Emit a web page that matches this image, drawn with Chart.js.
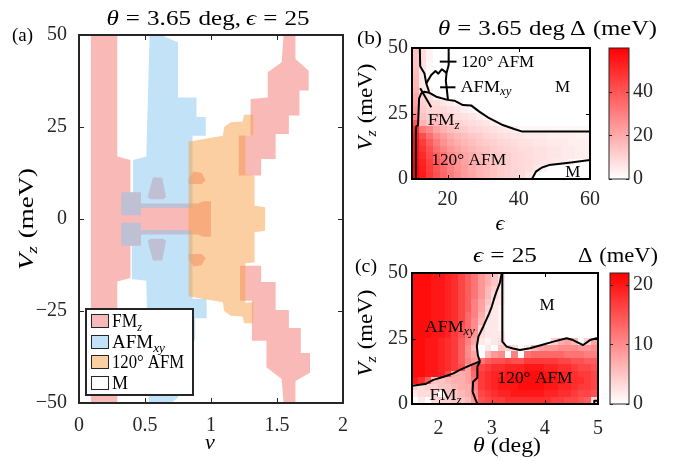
<!DOCTYPE html>
<html>
<head>
<meta charset="utf-8">
<script src="https://cdn.jsdelivr.net/npm/chart.js@4.4.0/dist/chart.umd.min.js"></script>
<style>
html, body { margin: 0; padding: 0; background: #fff; }
#wrap { position: relative; width: 674px; height: 462px; }
#wrap canvas { position: absolute; left: 0; top: 0; }
</style>
</head>
<body>
<div id="wrap">
  <canvas id="chA" width="674" height="462"></canvas>
  <canvas id="chB" width="674" height="462"></canvas>
  <canvas id="chBbar" width="674" height="462"></canvas>
  <canvas id="chC" width="674" height="462"></canvas>
  <canvas id="chCbar" width="674" height="462"></canvas>
</div>
<script>
// ---------- panel (a): phase regions, (nu, Vz) corners ----------
var aXTicks = [0, 0.5, 1, 1.5, 2];
var aYTicks = [-50, -25, 0, 25, 50];

var fmzLeft = [[0.09,50],[0.29,50],[0.29,17],[0.39,16],[0.39,7.3],[0.47,7.3],[0.47,4.2],[0.9,4.2],[0.94,4.8],[1.0,4.8],
  [1.0,-4.8],[0.94,-4.8],[0.9,-4.2],[0.47,-4.2],[0.47,-7.3],[0.39,-7.3],[0.39,-16],[0.29,-17],[0.29,-50],[0.09,-50]];
var fmzSpotA = [[0.56,11.3],[0.63,11.3],[0.66,6],[0.64,5.4],[0.54,5.4],[0.52,6]];
var fmzSpotB = [[0.56,-11.3],[0.63,-11.3],[0.66,-6],[0.64,-5.4],[0.54,-5.4],[0.52,-6]];
var fmzSpotC = [[0.83,11],[0.87,12.9],[0.93,12.5],[0.96,10.5],[0.93,9.5],[0.83,9.5]];
var fmzSpotD = [[0.83,-11],[0.87,-12.9],[0.93,-12.5],[0.96,-10.5],[0.93,-9.5],[0.83,-9.5]];
var fmzUp = [[1.55,50],[1.64,50],[1.64,43.5],[1.74,40.3],[1.74,34.9],[1.67,34.9],[1.67,28.1],[1.59,28.1],[1.59,23.1],
  [1.49,23.1],[1.49,16.3],[1.38,16.3],[1.38,11.8],[1.21,11.8],[1.21,22.7],[1.30,22.7],[1.30,32.6],[1.43,33],[1.43,39.9],[1.535,42.6]];
var fmzDown = [[1.55,-50],[1.64,-50],[1.64,-44],[1.75,-41.8],[1.75,-36.4],[1.68,-36.4],[1.68,-29.6],[1.59,-29.6],[1.59,-24.7],
  [1.49,-24.7],[1.49,-17.1],[1.38,-17.1],[1.38,-12.7],[1.22,-12.7],[1.22,-22.2],[1.31,-22.2],[1.31,-33.1],[1.42,-33.1],[1.42,-40.3],[1.535,-43.5]];
var afmxyUp = [[0.535,50],[0.62,50],[0.75,48],[0.75,33],[0.89,33],[0.89,27.7],[0.96,27.7],[0.96,22.6],[0.86,22.6],[0.86,3],
  [0.47,3],[0.47,1],[0.32,1],[0.32,7.3],[0.41,7.3],[0.41,16],[0.51,17]];
var afmxyDown = [[0.53,-50],[0.7,-50],[0.75,-48.5],[0.75,-33],[0.88,-33],[0.88,-27],[0.967,-27],[0.967,-21.7],[0.86,-21.7],[0.86,-3],
  [0.47,-3],[0.47,-1],[0.32,-1],[0.32,-7.3],[0.40,-7.3],[0.40,-16.3],[0.51,-16.8]];
var afm120 = [[0.83,21],[1.09,22.6],[1.1,25],[1.15,26.3],[1.24,26.5],[1.25,28.3],[1.32,28.3],[1.32,22.7],[1.26,22.7],[1.26,12],
  [1.33,11.8],[1.33,3.6],[1.41,3.2],[1.41,-3.2],[1.33,-3.6],[1.33,-11.8],[1.26,-12],[1.26,-22.7],[1.32,-22.7],[1.32,-28.3],
  [1.25,-28.3],[1.24,-26.5],[1.15,-26.3],[1.1,-25],[1.09,-22.6],[0.83,-21]];

// ---------- panel (b): gap vs eps and Vz at theta = 3.65 ----------
var bXTicks = [20, 40, 60];
var bYTicks = [0, 25, 50];
var bCbTicks = [0, 20, 40];
var bEps = [11,13,15,17,19,21,23,25,27,29,31,33,35,37,39,41,43,45,47,49,51,53,55,57,59];
var bVz = [48.75,46.25,43.75,41.25,38.75,36.25,33.75,31.25,28.75,26.25,23.75,21.25,18.75,16.25,13.75,11.25,8.75,6.25,3.75,1.25];
var bGap = [
  [14,8,3,0,0,0,0,0,0,0,0,0,0,0,0,0,0,0,0,0,0,0,0,0,0],
  [14,8,3,0,0,0,0,0,0,0,0,0,0,0,0,0,0,0,0,0,0,0,0,0,0],
  [14,7,2,0,0,0,0,0,0,0,0,0,0,0,0,0,0,0,0,0,0,0,0,0,0],
  [15,6,1,0,0,0,0,0,0,0,0,0,0,0,0,0,0,0,0,0,0,0,0,0,0],
  [16,5,0,0,0,0,0,0,0,0,0,0,0,0,0,0,0,0,0,0,0,0,0,0,0],
  [17,5,0,0,0,0,0,0,0,0,0,0,0,0,0,0,0,0,0,0,0,0,0,0,0],
  [18,6,3,0,0,0,0,0,0,0,0,0,0,0,0,0,0,0,0,0,0,0,0,0,0],
  [20,10,7,2,0,0,0,0,0,0,0,0,0,0,0,0,0,0,0,0,0,0,0,0,0],
  [22,11,9,8,6,4,2,0,0,0,0,0,0,0,0,0,0,0,0,0,0,0,0,0,0],
  [24,12,10,10,9,7,6,4,2,0,0,0,0,0,0,0,0,0,0,0,0,0,0,0,0],
  [30,14,12,13,11,10,8,7,6,4,2,0,0,0,0,0,0,0,0,0,0,0,0,0,0],
  [40,18,14,16,14,12,11,9,8,7,6,4,2,0,0,0,0,0,0,0,0,0,0,0,0],
  [50,32,28,22,18,15,13,12,10,9,8,7,6,5,4,2,2,2,2,2,2,2,2,2,2],
  [53,42,34,27,23,19,17,15,13,12,10,9,8,7,6,6,5,5,5,4,4,4,4,3,3],
  [55,46,38,31,26,22,19,17,15,13,12,11,10,9,8,7,7,6,6,5,5,5,4,4,4],
  [56,48,41,34,29,25,22,19,17,15,14,12,11,10,9,8,8,7,7,6,6,5,5,4,4],
  [57,50,43,37,32,27,24,21,19,17,15,13,12,11,10,9,8,7,7,6,6,5,5,4,4],
  [58,52,45,39,34,29,25,22,20,18,16,14,12,11,10,9,8,7,6,6,5,5,2,0,0],
  [59,53,46,40,35,30,26,23,20,18,16,14,12,11,10,9,8,6,3,0,0,0,0,0,0],
  [59,54,47,41,36,31,27,23,21,18,16,14,12,11,10,9,6,0,0,0,0,0,0,0,0]
];
var bGapMax = 60;
var bEdge = [[11,0],[11.1,19],[11.2,20],[11.7,20.6],[12,30.8],[12.6,32.7],[13.5,33.3],[14.9,32.9],[16.8,31.4],[20,30.2],[21.9,29.9],
  [24.3,28.2],[26.6,28.1],[28.9,25.7],[31.7,23.2],[35.5,20.6],[38.7,19.1],[41,18.1],[60,18.1]];
var bUpper = [[12.2,50],[12.3,43],[13.5,40.3],[14,36.5],[14.8,33.3]];
var bLoop = [[14,36.5],[15.4,39.7],[16.6,41.2],[17.4,40.2],[18.4,41.9],[19.7,40.5]];
var bVert = [[20.3,50],[20.3,43.5],[19.7,40.5],[19.5,37.5],[19.8,34],[20.1,30.2]];
var bMark1 = [[17.8,44.8],[22.5,44.8]];
var bMark2 = [[17.9,35],[22.2,35]];
var bPointer = [[12.3,34.6],[15.4,27.4]];
var bBubble = [[43.7,0],[44.8,2.8],[46.5,4.4],[48.5,5.3],[54.1,6.2],[60,7.3]];

// ---------- panel (c): gap vs theta and Vz at eps = 25 ----------
var cXTicks = [2, 3, 4, 5];
var cYTicks = [0, 25, 50];
var cCbTicks = [0, 10, 20];
var cTheta = [1.5625,1.6875,1.8125,1.9375,2.0625,2.1875,2.3125,2.4375,2.5625,2.6875,2.8125,2.9375,3.0625,3.1875,
  3.3125,3.4375,3.5625,3.6875,3.8125,3.9375,4.0625,4.1875,4.3125,4.4375,4.5625,4.6875,4.8125,4.9375];
var cVz = [48.75,46.25,43.75,41.25,38.75,36.25,33.75,31.25,28.75,26.25,23.75,21.25,18.75,16.25,13.75,11.25,8.75,6.25,3.75,1.25];
var cGap = [
  [21,21,21,20,20,19,18,16,14,12,9,7,5,3,0,0,0,0,0,0,0,0,0,0,0,0,0,0],
  [21,21,21,20,20,19,18,16,14,12,9,7,5,2,0,0,0,0,0,0,0,0,0,0,0,0,0,0],
  [21,21,21,20,20,19,18,16,14,12,9,6,4,2,0,0,0,0,0,0,0,0,0,0,0,0,0,0],
  [21,21,21,20,20,19,18,16,14,12,9,6,3,2,0,0,0,0,0,0,0,0,0,0,0,0,0,0],
  [21,21,21,20,20,19,18,16,14,11,8,5,2,2,0,0,0,0,0,0,0,0,0,0,0,0,0,0],
  [21,21,21,20,20,19,18,16,14,11,8,4,2,1,0,0,0,0,0,0,0,0,0,0,0,0,0,0],
  [21,21,21,20,20,19,18,16,13,11,7,3,2,1,0,0,0,0,0,0,0,0,0,0,0,0,0,0],
  [21,21,21,20,20,19,18,16,13,10,6,2,2,1,0,0,0,0,0,0,0,0,0,0,0,0,0,0],
  [21,21,21,20,20,19,18,15,13,10,4,2,2,1,0,0,0,0,0,0,0,0,0,0,0,0,0,0],
  [21,21,21,20,20,19,17,15,12,9,3,2,2,2,0,0,0,0,0,0,0,0,0,0,0,0,0,0],
  [21,21,20,20,19,18,17,14,11,8,2,1,2,3,0,0,0,0,0,0,0,4,7,8,6,0,4,8],
  [21,21,20,20,19,18,17,14,10,6,0,2,0,5,4,3,0,2,6,8,9,9,10,10,10,9,9,10],
  [21,21,20,20,19,18,17,14,10,8,0,6,9,10,0,11,0,12,13,13,13,13,13,12,12,12,11,11],
  [21,21,20,20,19,18,17,14,11,9,12,14,15,15,16,15,15,17,17,17,17,17,16,16,15,15,14,14],
  [21,21,20,20,19,18,17,15,8,14,16,17,18,18,19,19,19,20,20,20,19,19,18,18,17,16,16,15],
  [21,21,20,20,19,16,7,7,8,13,17,18,19,19,20,20,20,21,21,21,20,20,19,19,18,17,17,16],
  [20,18,14,5,5,6,7,7,8,12,17,18,19,20,20,21,21,21,21,21,21,20,20,19,18,18,17,16],
  [4,3,4,4,5,5,6,7,7,11,17,18,19,20,20,20,21,21,21,21,20,20,19,19,18,17,17,16],
  [2,3,3,4,0,5,5,6,7,10,16,17,18,19,19,20,20,20,20,20,19,19,18,18,17,16,16,15],
  [0,2,0,3,4,4,5,5,6,9,15,16,17,17,18,18,18,18,18,18,18,17,17,16,16,15,14,3]
];
var cGapMax = 22;
var cFmLine = [[1.5,7],[1.75,7.6],[1.9,9.2],[2.1,10.4],[2.28,11.7],[2.4,13],[2.53,14.2],[2.65,15.2],[2.78,16.2]];
var cFmRight = [[2.78,16.2],[2.73,14.2],[2.73,10],[2.65,8.5],[2.64,4.7],[2.7,1.5],[2.73,0]];
var cXyLine = [[2.78,16.2],[2.74,18.5],[2.72,22],[2.75,25.7],[2.84,29.5],[2.95,34.5],[3.0,37.1],[3.05,40.5],[3.09,42.9],
  [3.15,46],[3.17,48],[3.19,50]];
var cMLine = [[3.2,50],[3.2,23.8],[3.28,21.9],[3.4,21.2],[3.53,20.6],[3.72,21.3],[3.94,22.5],[4.16,23.8],[4.41,25.1],
  [4.53,24.4],[4.72,22.5],[4.85,24.4],[4.97,25.1],[5,25]];
var cCorner = [[4.93,0],[4.93,1.2],[5,1.2]];

// ---------- styling ----------
var FF = '"Liberation Serif","DejaVu Serif",serif';
var INK = '#262626';
var cPink = 'rgba(243,117,111,0.5)';
var cBlue = 'rgba(133,199,239,0.5)';
var cOrange = 'rgba(247,159,67,0.5)';
Chart.defaults.font.family = FF;

var FMZ = [['FM','r'],['z','s']];
var AFMXY = [['AFM','r'],['xy','s']];
var AFM120 = [['120\u00b0 AFM','r']];
var VZ = [['V','i'],['z','s'],[0.3,'g'],['(meV)','r']];
var DELTA = [['\u0394','r'],[0.3,'g'],['(meV)','r']];

function partFont(st, size) {
  var sz = st === 's' ? size * 0.7 : size;
  return (st === 'i' || st === 's' ? 'italic ' : '') + sz + 'px ' + FF;
}

function richDraw(ctx, t) {
  ctx.save();
  var widths = [], total = 0;
  t.parts.forEach(function(p) {
    var w;
    if (p[1] === 'g') w = p[0] * t.size;
    else { ctx.font = partFont(p[1], t.size); w = ctx.measureText(p[0]).width; }
    widths.push(w); total += w;
  });
  var sx = t.w ? t.w / total : 1;
  ctx.translate(t.x, t.y);
  if (t.rot) ctx.rotate(t.rot);
  ctx.scale(sx, 1);
  var x0 = t.align === 'center' ? -total / 2 : (t.align === 'right' ? -total : 0);
  ctx.fillStyle = t.color || '#000';
  ctx.textAlign = 'left';
  ctx.textBaseline = 'alphabetic';
  t.parts.forEach(function(p, i) {
    if (p[1] !== 'g') {
      ctx.font = partFont(p[1], t.size);
      ctx.fillText(p[0], x0, p[1] === 's' ? t.size * 0.22 : 0);
    }
    x0 += widths[i];
  });
  ctx.restore();
}

function pts(list) { return list.map(function(p) { return { x: p[0], y: p[1] }; }); }
function polyDs(list, color, order) {
  return { data: pts(list), fill: 'shape', backgroundColor: color, borderWidth: 0, pointRadius: 0, tension: 0, order: order };
}
function lineDs(list) {
  return { data: pts(list), fill: false, borderColor: '#000', borderWidth: 2, pointRadius: 0, tension: 0, borderJoinStyle: 'round' };
}
function numFmt(v) { return v < 0 ? '\u2212' + (-v) : String(v); }

function axis(min, max, ticks, o) {
  return {
    type: 'linear', min: min, max: max, position: o.position,
    afterBuildTicks: function(s) { s.ticks = ticks.map(function(v) { return { value: v }; }); },
    afterFit: function(s) { if (o.w != null) s.width = o.w; if (o.h != null) s.height = o.h; },
    grid: { display: false, drawTicks: false },
    border: { display: false },
    ticks: { autoSkip: false, maxRotation: 0, padding: o.pad, color: INK, font: { family: FF, size: 20 }, callback: numFmt }
  };
}

function baseOpts(pad, scales) {
  return {
    responsive: false, animation: false, events: [],
    layout: { padding: pad },
    scales: scales,
    plugins: { legend: { display: false }, tooltip: { enabled: false } }
  };
}

function framePlugin(xt, yt, len, lw, color) {
  return { id: 'frame', afterDatasetsDraw: function(chart) {
    var a = chart.chartArea, ctx = chart.ctx, xs = chart.scales.x, ys = chart.scales.y;
    ctx.save();
    ctx.strokeStyle = color; ctx.lineWidth = 1;
    ctx.beginPath();
    xt.forEach(function(v) {
      var p = Math.round(xs.getPixelForValue(v)) + 0.5;
      ctx.moveTo(p, a.bottom); ctx.lineTo(p, a.bottom - len);
      ctx.moveTo(p, a.top); ctx.lineTo(p, a.top + len);
    });
    yt.forEach(function(v) {
      var p = Math.round(ys.getPixelForValue(v)) + 0.5;
      ctx.moveTo(a.left, p); ctx.lineTo(a.left + len, p);
      ctx.moveTo(a.right, p); ctx.lineTo(a.right - len, p);
    });
    ctx.stroke();
    ctx.lineWidth = lw;
    ctx.strokeRect(a.left, a.top, a.right - a.left, a.bottom - a.top);
    ctx.restore();
  } };
}

function textPlugin(items) {
  return { id: 'texts', afterDraw: function(chart) {
    items.forEach(function(t) {
      var o = Object.assign({}, t);
      if (t.data) { o.x = chart.scales.x.getPixelForValue(t.data[0]); o.y = chart.scales.y.getPixelForValue(t.data[1]); }
      richDraw(chart.ctx, o);
    });
  } };
}

function redMap(t) {
  t = Math.max(0, Math.min(1, t));
  var g = Math.round(255 * (1 - t));
  return 'rgb(255,' + g + ',' + g + ')';
}

function heatPlugin(cols, rows, z, max) {
  return { id: 'heat', beforeDatasetsDraw: function(chart) {
    var ctx = chart.ctx, xs = chart.scales.x, ys = chart.scales.y;
    var dx = Math.abs(cols[1] - cols[0]), dy = Math.abs(rows[1] - rows[0]);
    ctx.save();
    for (var r = 0; r < rows.length; r++) {
      for (var c = 0; c < cols.length; c++) {
        var x0 = Math.floor(xs.getPixelForValue(cols[c] - dx / 2));
        var x1 = Math.ceil(xs.getPixelForValue(cols[c] + dx / 2));
        var y0 = Math.floor(ys.getPixelForValue(rows[r] + dy / 2));
        var y1 = Math.ceil(ys.getPixelForValue(rows[r] - dy / 2));
        ctx.fillStyle = redMap(z[r][c] / max);
        ctx.fillRect(x0, y0, x1 - x0, y1 - y0);
      }
    }
    ctx.restore();
  } };
}

function cbarPlugin() {
  return { id: 'cbar', beforeDatasetsDraw: function(chart) {
    var a = chart.chartArea, ctx = chart.ctx;
    var g = ctx.createLinearGradient(0, a.bottom, 0, a.top);
    g.addColorStop(0, 'rgb(255,255,255)');
    g.addColorStop(1, 'rgb(255,0,0)');
    ctx.save();
    ctx.fillStyle = g;
    ctx.fillRect(a.left, a.top, a.right - a.left, a.bottom - a.top);
    ctx.restore();
  } };
}

var legendA = { id: 'legendA', afterDraw: function(chart) {
  var ctx = chart.ctx;
  var entries = [
    { parts: FMZ, color: cPink, w: 30 },
    { parts: AFMXY, color: cBlue, w: 53 },
    { parts: AFM120, color: cOrange, w: 72 },
    { parts: [['M','r']], color: 'rgba(255,255,255,0)', w: 0 }
  ];
  ctx.save();
  ctx.fillStyle = '#fff';
  ctx.fillRect(86, 309, 107, 86);
  ctx.lineWidth = 2; ctx.strokeStyle = INK;
  ctx.strokeRect(86, 309, 107, 86);
  entries.forEach(function(e, i) {
    var y = Math.round(314 + i * 20.7);
    ctx.fillStyle = e.color;
    ctx.fillRect(91, y, 18, 14);
    ctx.lineWidth = 1; ctx.strokeStyle = INK;
    ctx.strokeRect(91.5, y + 0.5, 17, 13);
    richDraw(ctx, { x: 112, y: y + 13, parts: e.parts, size: 18, align: 'left', w: e.w || null });
  });
  ctx.restore();
} };

// ---------- panel (a) ----------
new Chart(document.getElementById('chA'), {
  type: 'line',
  data: { datasets: [
    polyDs(fmzLeft, cPink, 3), polyDs(fmzSpotA, cPink, 3), polyDs(fmzSpotB, cPink, 3),
    polyDs(fmzSpotC, cPink, 3), polyDs(fmzSpotD, cPink, 3), polyDs(fmzUp, cPink, 3), polyDs(fmzDown, cPink, 3),
    polyDs(afmxyUp, cBlue, 2), polyDs(afmxyDown, cBlue, 2),
    polyDs(afm120, cOrange, 1)
  ] },
  options: baseOpts({ left: 0, right: 331, top: 35, bottom: 0 }, {
    x: axis(0, 2, aXTicks, { position: 'bottom', h: 59, pad: 11 }),
    y: axis(-50, 50, aYTicks, { position: 'left', w: 79, pad: 12 })
  }),
  plugins: [framePlugin(aXTicks, aYTicks, 5, 2, INK), legendA, textPlugin([
    { x: 208, y: 25, size: 20, align: 'center', w: 203,
      parts: [['\u03b8','i'],[0.28,'g'],['=','r'],[0.28,'g'],['3.65','r'],[0.3,'g'],['deg','r'],[',','r'],[0.2,'g'],
              ['\u03f5','i'],[0.28,'g'],['=','r'],[0.28,'g'],['25','r']] },
    { x: 12, y: 41, size: 19, align: 'left', w: 21, parts: [['(a)','r']] },
    { x: 33, y: 219, size: 20, align: 'center', w: 102, rot: -Math.PI / 2, parts: VZ },
    { x: 210, y: 449, size: 22, align: 'center', parts: [['\u03bd','i']] }
  ])]
});

// ---------- panel (b) ----------
new Chart(document.getElementById('chB'), {
  type: 'line',
  data: { datasets: [lineDs(bEdge), lineDs(bUpper), lineDs(bLoop), lineDs(bVert), lineDs(bMark1), lineDs(bMark2),
    lineDs(bPointer), lineDs(bBubble)] },
  options: baseOpts({ left: 372, right: 84, top: 48, bottom: 253 }, {
    x: axis(10, 60, bXTicks, { position: 'bottom', h: 30, pad: 9 }),
    y: axis(0, 50, bYTicks, { position: 'left', w: 40, pad: 4 })
  }),
  plugins: [heatPlugin(bEps, bVz, bGap, bGapMax), framePlugin(bXTicks, bYTicks, 4, 2, '#000'), textPlugin([
    { x: 357, y: 44, size: 19, align: 'left', w: 25, parts: [['(b)','r']] },
    { x: 438, y: 35, size: 20, align: 'left', w: 127,
      parts: [['\u03b8','i'],[0.28,'g'],['=','r'],[0.28,'g'],['3.65','r'],[0.3,'g'],['deg','r']] },
    { x: 570, y: 35, size: 20, align: 'left', w: 87, parts: DELTA },
    { x: 372, y: 107, size: 20, align: 'center', w: 87, rot: -Math.PI / 2, parts: VZ },
    { x: 500, y: 230, size: 22, align: 'center', parts: [['\u03f5','i']] },
    { data: [23.8, 42.7], size: 17, align: 'left', w: 73, parts: AFM120 },
    { data: [23.6, 33.3], size: 17, align: 'left', w: 51, parts: AFMXY },
    { data: [52.3, 33.3], size: 17, align: 'center', parts: [['M','r']] },
    { data: [14.4, 20.6], size: 17, align: 'left', w: 32, parts: FMZ },
    { data: [15.4, 5.3], size: 17, align: 'left', w: 75, parts: AFM120 },
    { data: [55.2, 0.9], size: 17, align: 'center', parts: [['M','r']] }
  ])]
});

new Chart(document.getElementById('chBbar'), {
  type: 'line',
  data: { datasets: [] },
  options: baseOpts({ left: 609, right: 10, top: 48, bottom: 283 }, {
    x: { type: 'linear', display: false, min: 0, max: 1 },
    y: axis(0, bGapMax, bCbTicks, { position: 'right', w: 35, pad: 4 })
  }),
  plugins: [cbarPlugin(), framePlugin([], bCbTicks, 3, 1, INK)]
});

// ---------- panel (c) ----------
new Chart(document.getElementById('chC'), {
  type: 'line',
  data: { datasets: [lineDs(cFmLine), lineDs(cFmRight), lineDs(cXyLine), lineDs(cMLine), lineDs(cCorner)] },
  options: baseOpts({ left: 372, right: 76, top: 273, bottom: 28 }, {
    x: axis(1.5, 5, cXTicks, { position: 'bottom', h: 30, pad: 13 }),
    y: axis(0, 50, cYTicks, { position: 'left', w: 40, pad: 4 })
  }),
  plugins: [heatPlugin(cTheta, cVz, cGap, cGapMax), framePlugin(cXTicks, cYTicks, 4, 2, '#000'), textPlugin([
    { x: 355, y: 272, size: 19, align: 'left', w: 22, parts: [['(c)','r']] },
    { x: 473, y: 262, size: 20, align: 'left', w: 64, parts: [['\u03f5','i'],[0.28,'g'],['=','r'],[0.28,'g'],['25','r']] },
    { x: 578, y: 262, size: 20, align: 'left', w: 80, parts: DELTA },
    { x: 372, y: 333, size: 20, align: 'center', w: 87, rot: -Math.PI / 2, parts: VZ },
    { x: 507, y: 452, size: 20, align: 'center', w: 68, parts: [['\u03b8','i'],[0.25,'g'],['(deg)','r']] },
    { data: [4.04, 35.9], size: 17, align: 'center', parts: [['M','r']] },
    { data: [1.74, 27.6], size: 17, align: 'left', w: 50, parts: AFMXY },
    { data: [3.11, 7.9], size: 17, align: 'left', w: 75, parts: AFM120 },
    { data: [1.83, 1.5], size: 17, align: 'left', w: 32, parts: FMZ }
  ])]
});

new Chart(document.getElementById('chCbar'), {
  type: 'line',
  data: { datasets: [] },
  options: baseOpts({ left: 610, right: 10, top: 273, bottom: 58 }, {
    x: { type: 'linear', display: false, min: 0, max: 1 },
    y: axis(0, cGapMax, cCbTicks, { position: 'right', w: 35, pad: 4 })
  }),
  plugins: [cbarPlugin(), framePlugin([], cCbTicks, 3, 1, INK)]
});
</script>
</body>
</html>
